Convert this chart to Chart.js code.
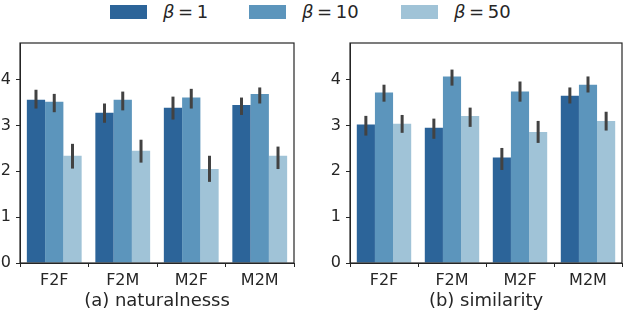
<!DOCTYPE html>
<html>
<head>
<meta charset="utf-8">
<script src="https://cdn.jsdelivr.net/npm/chart.js@4/dist/chart.umd.min.js"></script>
<style>
  html, body { margin: 0; padding: 0; background: #fff; }
  body { width: 624px; height: 314px; position: relative; overflow: hidden; font-family: "DejaVu Sans", sans-serif; color: #262626; }
  .panel { position: absolute; top: 38px; }
  #legend { position: absolute; top: 0; left: 0; width: 624px; height: 26px; }
  .box { position: absolute; top: 5px; width: 37px; height: 14px; }
  .lbl { position: absolute; top: 0px; font-size: 18px; line-height: 24px; white-space: nowrap; }
  .lbl i { font-style: italic; }
</style>
</head>
<body>
<div id="legend"></div>
<div class="panel" style="left:0px"><canvas id="c1" width="300" height="276"></canvas></div>
<div class="panel" style="left:330px"><canvas id="c2" width="294" height="276"></canvas></div>
<script>
// ---- data ----
const categories = ['F2F', 'F2M', 'M2F', 'M2M'];
const seriesNames = ['1', '10', '50'];
const seriesColors = ['#2c6499', '#5c95bc', '#a0c3d7'];
const yTicks = [0, 1, 2, 3, 4];

// (a) naturalness: means and error-bar ends
const natB1 = [3.56, 3.28, 3.39, 3.45];
const natB1Lo = [3.37, 3.06, 3.13, 3.23];
const natB1Hi = [3.78, 3.48, 3.63, 3.61];
const natB10 = [3.52, 3.56, 3.61, 3.69];
const natB10Lo = [3.29, 3.33, 3.37, 3.48];
const natB10Hi = [3.69, 3.74, 3.80, 3.83];
const natB50 = [2.34, 2.45, 2.05, 2.34];
const natB50Lo = [2.06, 2.19, 1.77, 2.05];
const natB50Hi = [2.60, 2.69, 2.34, 2.54];

// (b) similarity
const simB1 = [3.02, 2.95, 2.30, 3.65];
const simB1Lo = [2.78, 2.71, 2.03, 3.48];
const simB1Hi = [3.21, 3.15, 2.51, 3.83];
const simB10 = [3.72, 4.07, 3.74, 3.89];
const simB10Lo = [3.52, 3.87, 3.52, 3.72];
const simB10Hi = [3.89, 4.22, 3.96, 4.07];
const simB50 = [3.04, 3.21, 2.86, 3.10];
const simB50Lo = [2.84, 2.97, 2.62, 2.89];
const simB50Hi = [3.23, 3.39, 3.10, 3.30];

// ---- legend (HTML text) ----
const legendBoxX = [110, 249, 401];
const legendTextX = [163, 302, 454];
const legendEl = document.getElementById('legend');
seriesNames.forEach((n, i) => {
  const b = document.createElement('div');
  b.className = 'box';
  b.style.left = legendBoxX[i] + 'px';
  b.style.background = seriesColors[i];
  legendEl.appendChild(b);
  const t = document.createElement('div');
  t.className = 'lbl';
  t.style.left = legendTextX[i] + 'px';
  t.innerHTML = '<i>β</i>\u2009=\u2009' + n;
  legendEl.appendChild(t);
});

// ---- plugins ----
const AXIS = '#262626';
const errorBars = {
  id: 'errorBars',
  afterDatasetsDraw(chart) {
    const ctx = chart.ctx, ys = chart.scales.y;
    chart.data.datasets.forEach((ds, i) => {
      const meta = chart.getDatasetMeta(i);
      meta.data.forEach((bar, j) => {
        const y1 = ys.getPixelForValue(ds.errLo[j]);
        const y2 = ys.getPixelForValue(ds.errHi[j]);
        ctx.save();
        ctx.strokeStyle = '#424242';
        ctx.lineWidth = 3;
        ctx.beginPath();
        ctx.moveTo(bar.x, y1);
        ctx.lineTo(bar.x, y2);
        ctx.stroke();
        ctx.restore();
      });
    });
  }
};
const frame = {
  id: 'frame',
  afterDraw(chart) {
    const a = chart.chartArea, ctx = chart.ctx;
    ctx.save();
    ctx.strokeStyle = AXIS;
    ctx.lineWidth = 1.2;
    ctx.strokeRect(a.left, a.top, a.right - a.left, a.bottom - a.top);
    ctx.restore();
  }
};

function makeChart(id, title, vals, los, his, padRight) {
  return new Chart(document.getElementById(id), {
    type: 'bar',
    data: {
      labels: categories,
      datasets: vals.map((v, i) => ({
        label: 'β = ' + seriesNames[i],
        data: v,
        errLo: los[i],
        errHi: his[i],
        backgroundColor: seriesColors[i],
        borderWidth: 0,
        categoryPercentage: 0.8,
        barPercentage: 1.0
      }))
    },
    options: {
      responsive: false,
      animation: false,
      layout: { padding: { top: 5, right: padRight, left: 0, bottom: 0 } },
      plugins: { legend: { display: false }, tooltip: { enabled: false } },
      scales: {
        x: {
          grid: { display: true, drawOnChartArea: false, drawTicks: true, tickLength: 4, color: AXIS },
          border: { display: true, color: AXIS, width: 1 },
          ticks: { color: AXIS, font: { family: 'DejaVu Sans', size: 16 }, padding: 4, maxRotation: 0 },
          title: { display: true, text: title, color: AXIS, font: { family: 'DejaVu Sans', size: 18 }, padding: { top: 0, bottom: 2 } },
          afterFit(s) { s.height = 51; s.paddingLeft = 0; s.paddingRight = 0; }
        },
        y: {
          min: 0, max: 4.8,
          grid: { display: true, drawOnChartArea: false, drawTicks: true, tickLength: 4, color: AXIS },
          border: { display: true, color: AXIS, width: 1 },
          ticks: { color: AXIS, font: { family: 'DejaVu Sans', size: 16 }, padding: 5, stepSize: 1 },
          afterBuildTicks(s) { s.ticks = yTicks.map(v => ({ value: v })); },
          afterFit(s) { s.width = 20; s.paddingTop = 0; s.paddingBottom = 0; }
        }
      }
    },
    plugins: [errorBars, frame]
  });
}

makeChart('c1', '(a) naturalnesss',
  [natB1, natB10, natB50], [natB1Lo, natB10Lo, natB50Lo], [natB1Hi, natB10Hi, natB50Hi], 6);
makeChart('c2', '(b) similarity',
  [simB1, simB10, simB50], [simB1Lo, simB10Lo, simB50Lo], [simB1Hi, simB10Hi, simB50Hi], 2);
</script>
</body>
</html>
